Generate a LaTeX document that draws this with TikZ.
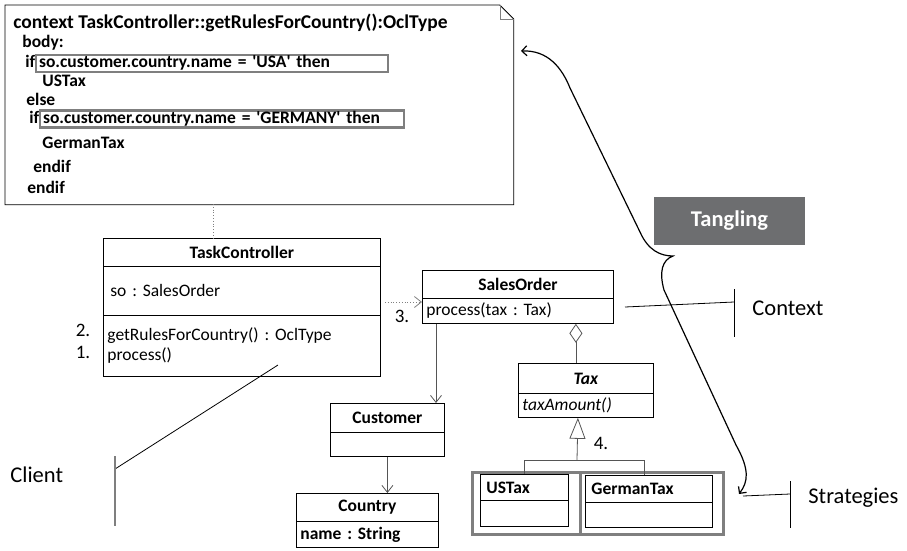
\documentclass[tikz,border=0pt]{standalone}
\usepackage{fontspec}
\setmainfont{Carlito}
\usetikzlibrary{arrows.meta}
\definecolor{markgray}{HTML}{7F7F7F}
\definecolor{tanglegray}{HTML}{6D6E70}
\definecolor{linegray}{HTML}{555555}
\frenchspacing
\newcommand{\q}{\textquotesingle}
\begin{document}
\begin{tikzpicture}[x=1pt, y=-1pt, line width=0.8pt,
    every node/.style={inner sep=0pt, font=\fontsize{17.5}{20}\selectfont},
    title/.style 2 args={draw, anchor=north west, minimum width=#1pt,
                         minimum height=#2pt, font=\fontsize{17.5}{20}\selectfont\bfseries},
    part/.style 2 args={draw, anchor=north west, inner xsep=4pt, text width=#1pt,
                        minimum height=#2pt, align=left},
    hilite/.style 2 args={draw=markgray, line width=2.5pt, anchor=north west,
                          minimum width=#1pt, minimum height=#2pt},
    codeline/.style={anchor=base west, font=\fontsize{17.5}{20}\selectfont\bfseries},
    cond/.style={draw=markgray, line width=2.2pt, anchor=west, inner xsep=3pt,
                 text width=#1pt, minimum height=17pt, text height=11.5pt, text depth=3.5pt,
                 align=left, font=\fontsize{17.5}{20}\selectfont\bfseries},
    num/.style={font=\fontsize{19}{20}\selectfont},
    side/.style={anchor=base west, font=\fontsize{22.5}{24}\selectfont},
    tangle/.style={fill=tanglegray, text=white, minimum width=151pt, minimum height=48pt,
                   font=\fontsize{22.5}{24}\selectfont\bfseries},
    nav/.style={-{Straight Barb[length=7pt, width=11pt]}},
    aggr/.style={{Diamond[open, length=19pt, width=13pt]}-},
    gen/.style={-{Triangle[open, length=21pt, width=16pt]}},
    brace/.style={line width=1.2pt, {Straight Barb[length=5pt, width=10pt]}-{Straight Barb[length=5pt, width=10pt]}}]
    \useasboundingbox (0,0) rectangle (907,550);

    % OCL note
    \node[anchor=north west, minimum width=508pt, minimum height=199pt] (note) at (5,5) {};
    \draw (note.north west) -- ([xshift=-14pt]note.north east) -- ([yshift=-14pt]note.north east)
          -- (note.south east) -- (note.south west) -- cycle;
    \draw[thin, gray] ([xshift=-14pt]note.north east) |- ([yshift=-14pt]note.north east);
    \node[codeline, font=\fontsize{19.5}{20}\selectfont\bfseries] (l1) at (13,28)
        {context TaskController::getRulesForCountry():OclType};
    \node[codeline] (l2) at (22,47)  {body:};
    \node[codeline] (l3) at (25,67)  {if};
    \node[cond=346] (c1) at (35,63.5) {so.customer.country.name = \q USA\q{} then};
    \node[codeline] (l4) at (42,86)  {USTax};
    \node[codeline] (l5) at (26,105) {else};
    \node[codeline] (l6) at (29,123) {if};
    \node[cond=358] (c2) at (39,119) {so.customer.country.name = \q GERMANY\q{} then};
    \node[codeline] (l7) at (42,148) {GermanTax};
    \node[codeline] (l8) at (33,172) {endif};
    \node[codeline] (l9) at (27,193) {endif};

    % classes
    \node[title={277}{28}] (tcname) at (103,238) {TaskController};
    \node[part={269}{49}]  (tcattr) at (103,266) {\hspace{3pt}so : SalesOrder};
    \node[part={269}{61}]  (tcops)  at (103,315) {getRulesForCountry() : OclType\\process()};
    \node[num] (n2) at (83,330) {2.};
    \node[num] (n1) at (83,352) {1.};

    \node[title={191}{28}] (soname) at (422,270) {SalesOrder};
    \node[part={183}{25}]  (soops)  at (422,298) {process(tax : Tax)};
    \node[num] (n3) at (402,316) {3.};

    \node[title={114}{29}] (csname) at (330,403) {Customer};
    \node[part={106}{24}]  (csbody) at (330,432) {};

    \node[title={142}{28}] (ctname) at (296,493) {Country};
    \node[part={134}{26}]  (ctattr) at (296,521) {\bfseries name : String};

    \node[title={135}{30}] (txname) at (518,363) {\itshape Tax};
    \node[part={127}{24}]  (txops)  at (518,393) {\itshape taxAmount()};
    \node[num] (n4) at (601,443) {4.};

    \node[part={80}{26}]   (usname) at (480,474) {\bfseries\hspace{2pt}USTax};
    \node[part={80}{26}]   (usbody) at (480,500) {};
    \node[part={119}{27}]  (dename) at (585,475) {\bfseries\hspace{2pt}GermanTax};
    \node[part={119}{25}]  (debody) at (585,502) {};
    \node[hilite={108}{62}] (usmark) at (471,471) {};
    \node[hilite={143}{62}] (demark) at (579,471) {};

    % relations
    \coordinate (notefoot) at (213,204);
    \draw[dotted, gray] (notefoot) -- (notefoot |- tcname.north);
    \coordinate (dep) at (385,302);
    \draw[dotted, gray, nav] (dep) -- (dep -| soname.west);
    \draw[nav, linegray] ([xshift=14pt]soops.south west) -- ([xshift=14pt]soops.south west |- csname.north);
    \draw[nav, linegray] (csbody.south) -- (csbody.south |- ctname.north);
    \draw[aggr, linegray] ([xshift=-10pt]txname.north |- soops.south) -- ([xshift=-10pt]txname.north);
    \coordinate (fork) at (577,460);
    \draw[gen, linegray] (fork) -- ([xshift=-8pt]txops.south);
    \draw[linegray] (usname.north) |- (fork) -| ([xshift=-5pt]dename.north);

    % tangling and roles
    \node[tangle] (tangling) at (729.5,221) {Tangling};
    \coordinate (bracetop) at (521,51);
    \coordinate (bracecusp) at (673,256);
    \coordinate (braceend) at (739,494);
    \draw[brace] (bracetop) .. controls (548,50) and (562,68) .. (570,88) -- (640,232)
          .. controls (648,250) and (660,256) .. (bracecusp)
          .. controls (662,260) and (659,272) .. (664,290) -- (736,445)
          .. controls (750,470) and (748,482) .. (braceend);

    \node[side] (context) at (752,315) {Context};
    \coordinate (ctxfrom) at (625,307);
    \coordinate (ctxbar) at (734,302);
    \draw (ctxfrom) -- (ctxbar);
    \draw ([yshift=13pt]ctxbar) -- ([yshift=-35pt]ctxbar);

    \node[side] (client) at (10,482) {Client};
    \coordinate (clifrom) at (278,365);
    \coordinate (clibar) at (115,469);
    \draw (clifrom) -- (clibar);
    \draw[markgray, line width=1.6pt] ([yshift=13pt]clibar) -- ([yshift=-57pt]clibar);

    \node[side] (strategies) at (808,503) {Strategies};
    \coordinate (strfrom) at (743,496);
    \coordinate (strbar) at (790,494);
    \draw (strfrom) -- (strbar);
    \draw ([yshift=13pt]strbar) -- ([yshift=-34pt]strbar);
\end{tikzpicture}
\end{document}
